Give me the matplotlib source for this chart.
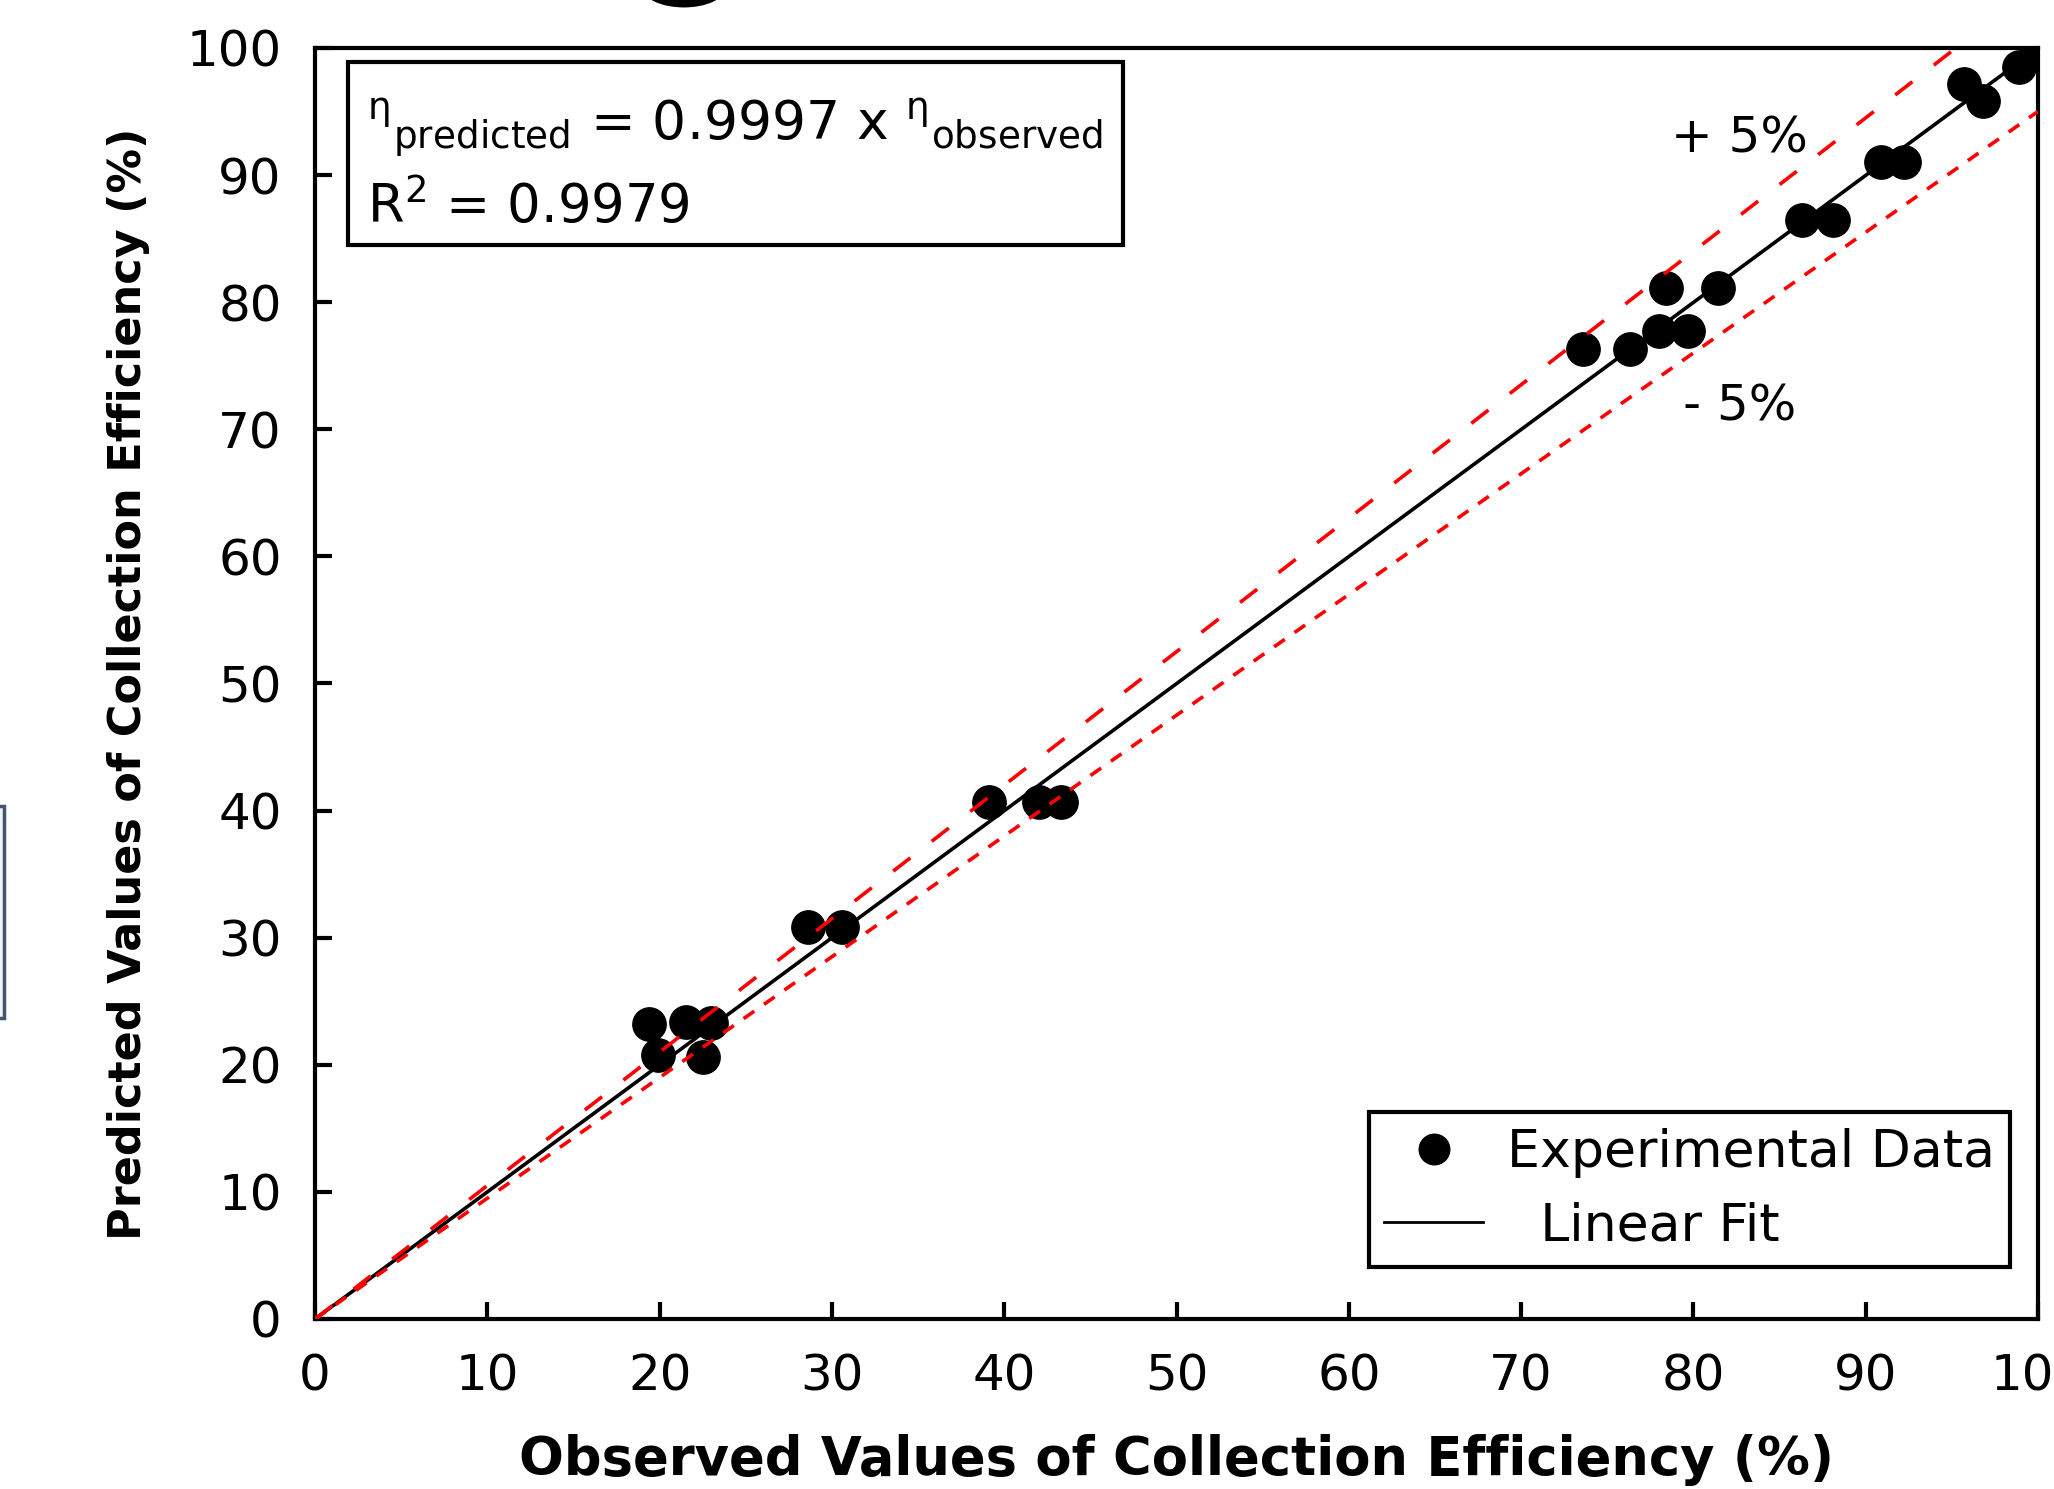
import matplotlib
matplotlib.use("Agg")
import matplotlib.pyplot as plt
from matplotlib.patches import Rectangle, Ellipse
from matplotlib.lines import Line2D
import numpy as np

# observed vs predicted collection efficiency (%)
observed = [19.4, 21.5, 23.0, 19.9, 22.5,
            28.6, 30.6,
            39.1, 42.0, 43.3,
            73.6, 76.3, 78.0, 79.7, 78.4, 81.4,
            86.3, 88.1, 90.9, 92.2,
            95.7, 96.8, 98.9, 99.9]
predicted = [23.2, 23.4, 23.3, 20.8, 20.6,
             30.8, 30.8,
             40.7, 40.7, 40.7,
             76.3, 76.3, 77.7, 77.7, 81.1, 81.1,
             86.5, 86.5, 91.0, 91.0,
             97.2, 95.8, 98.5, 99.5]

slope = 0.9997
r2 = 0.9979
band = 0.05
ticks = list(range(0, 101, 10))

plt.rcParams['font.family'] = 'DejaVu Sans'
plt.rcParams['mathtext.fontset'] = 'dejavusans'

fig = plt.figure(figsize=(20.54, 14.89), dpi=100)
ax = fig.add_axes([0.1534, 0.1142, 0.8388, 0.8536])

xs = np.array([0, 100])
ax.plot(observed, predicted, 'o', color='black', markersize=24, zorder=3)
ax.plot(xs, slope * xs, color='black', lw=2.6, zorder=4)
ax.plot(xs, (1 + band) * xs, color='red', lw=2.6, dashes=(6, 7.5), zorder=5)
ax.plot(xs, (1 - band) * xs, color='red', lw=2.6, dashes=(3.6, 3.3), zorder=5)

ax.set_xlim(0, 100)
ax.set_ylim(0, 100)
ax.set_xticks(ticks)
ax.set_yticks(ticks)
ax.tick_params(direction='in', length=12, width=3, labelsize=36, pad=24,
               top=False, right=False)
for s in ax.spines.values():
    s.set_linewidth(3)

ax.set_xlabel('Observed Values of Collection Efficiency (%)', fontsize=38,
              fontweight='bold', labelpad=24)
ax.set_ylabel('Predicted Values of Collection Efficiency (%)', fontsize=32,
              fontweight='bold', labelpad=26)

# equation box
eq = (r'$\mathrm{{}^{η}{}_{predicted}}$ = %.4f x '
      r'$\mathrm{{}^{η}{}_{observed}}$' % slope)
ax.add_patch(Rectangle((0.019, 0.845), 0.450, 0.144, transform=ax.transAxes,
                       facecolor='white', edgecolor='black', lw=3, zorder=6))
ax.text(0.030, 0.927, eq, transform=ax.transAxes, fontsize=38.5,
        va='baseline', zorder=7)
ax.text(0.030, 0.862, r'R$^{2}$ = %.4f' % r2, transform=ax.transAxes,
        fontsize=38, va='baseline', zorder=7)

ax.text(82.7, 92.9, '+ 5%', fontsize=36, ha='center', va='center')
ax.text(82.7, 71.8, '- 5%', fontsize=36, ha='center', va='center')

handles = [Line2D([], [], ls='none', marker='o', color='black', markersize=22),
           Line2D([], [], color='black', lw=2)]
leg = ax.legend(handles, ['Experimental Data', '  Linear Fit'],
                loc='lower right', bbox_to_anchor=(0.984, 0.041),
                fontsize=37.5, frameon=True, fancybox=False, framealpha=1,
                edgecolor='black', borderaxespad=0, handlelength=1.9,
                handletextpad=0.45, labelspacing=0.45, borderpad=0.3)
leg.get_frame().set_linewidth(3)
leg.set_zorder(8)

# crop remnants at the figure edges
fig.patches.append(Rectangle((-0.05, 0.316), 0.052, 0.143, transform=fig.transFigure,
                             facecolor='#eef2fa', edgecolor='#44546a', lw=2.5))
fig.patches.append(Ellipse((0.333, 1.008), 0.040, 0.026, transform=fig.transFigure,
                           facecolor='black', edgecolor='none'))

fig.savefig('out.png', dpi=100)
